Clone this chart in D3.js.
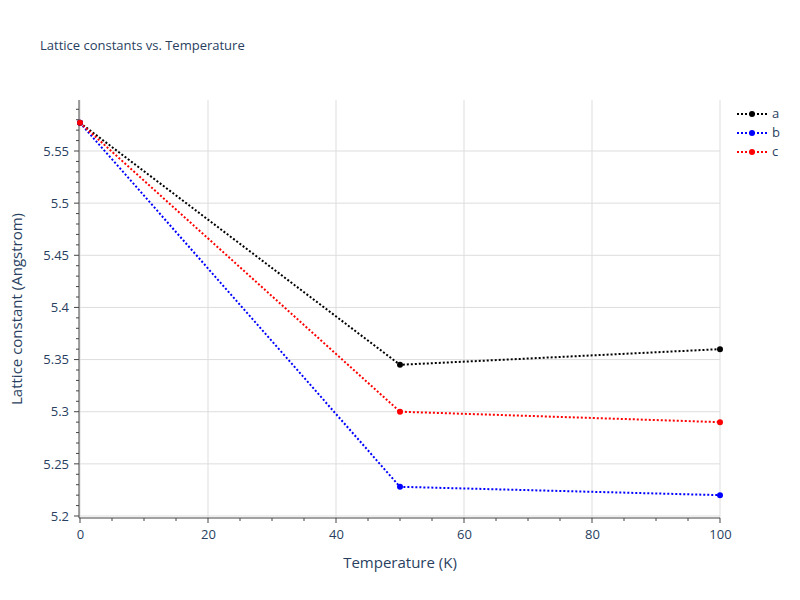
<!DOCTYPE html><html><head><meta charset="utf-8"><script src="https://cdn.jsdelivr.net/npm/d3@7"></script>
<style>body{margin:0;background:#fff}text{font-family:"Open Sans",Arial,sans-serif;fill:#2a3f5f}</style></head><body>
<script>
const temps=[0,50,100];
const seriesNames=["a","b","c"];
const seriesColors=["black","blue","red"];
const aVals=[5.577,5.345,5.360];
const bVals=[5.577,5.228,5.220];
const cVals=[5.577,5.300,5.290];
const xTicks=[0,20,40,60,80,100];
const yTicks=[5.2,5.25,5.3,5.35,5.4,5.45,5.5,5.55];
const series=[aVals,bVals,cVals];

const W=800,H=600,L=80,R=720,T=100,B=518;
const svg=d3.select("body").append("svg").attr("width",W).attr("height",H);
const x=d3.scaleLinear().domain([0,100]).range([L,R]);
const y=d3.scaleLinear().domain([5.2,5.55]).range([516,151]);
const g=svg.append("g");
xTicks.forEach(t=>g.append("line").attr("x1",x(t)).attr("x2",x(t)).attr("y1",T).attr("y2",B).attr("stroke","#ddd"));
yTicks.forEach(t=>g.append("line").attr("x1",L).attr("x2",R).attr("y1",y(t)).attr("y2",y(t)).attr("stroke","#ddd"));
g.append("line").attr("x1",L-1).attr("x2",L-1).attr("y1",T).attr("y2",B).attr("stroke","#444");
g.append("line").attr("x1",L-1).attr("x2",R).attr("y1",B).attr("y2",B).attr("stroke","#444");
const xa=svg.append("g").attr("transform",`translate(0,${B})`).call(d3.axisBottom(x).tickValues(xTicks).tickSize(0).tickPadding(12).tickFormat(d3.format("d")));
xa.select(".domain").remove();
d3.range(0,101,5).forEach(t=>svg.append("line").attr("x1",x(t)).attr("x2",x(t)).attr("y1",B).attr("y2",B+(t%20===0?5:3)).attr("stroke","#444"));
const ya=svg.append("g").attr("transform",`translate(${L-1},0)`).call(d3.axisLeft(y).tickValues(yTicks).tickSize(0).tickPadding(10).tickFormat(d=>String(+d.toFixed(2))));
ya.select(".domain").remove();
d3.range(5.2,5.6,0.01).forEach(t=>{if(y(t)>=T)svg.append("line").attr("x1",L-1).attr("x2",L-1-(Math.abs(t*20-Math.round(t*20))<1e-6?5:3)).attr("y1",y(t)).attr("y2",y(t)).attr("stroke","#444");});
svg.selectAll(".tick text").attr("font-size",13).style("fill","#2a3f5f");
svg.append("text").attr("x",40).attr("y",50).attr("font-size",13).text("Lattice constants vs. Temperature");
svg.append("text").attr("x",400).attr("y",568).attr("text-anchor","middle").attr("font-size",15).text("Temperature (K)");
svg.append("text").attr("transform","translate(22,309) rotate(-90)").attr("text-anchor","middle").attr("font-size",15).text("Lattice constant (Angstrom)");
const line=d3.line().x((d,i)=>x(temps[i])).y(d=>y(d));
series.forEach((s,k)=>{
  svg.append("path").attr("d",line(s)).attr("fill","none").attr("stroke",seriesColors[k]).attr("stroke-width",2).attr("stroke-dasharray","2,2");
  s.forEach((v,i)=>svg.append("circle").attr("cx",x(temps[i])).attr("cy",y(v)).attr("r",3).attr("fill",seriesColors[k]));
  const ly=114+k*19;
  svg.append("line").attr("x1",737).attr("x2",767).attr("y1",ly).attr("y2",ly).attr("stroke",seriesColors[k]).attr("stroke-width",2).attr("stroke-dasharray","2,2");
  svg.append("circle").attr("cx",752).attr("cy",ly).attr("r",3).attr("fill",seriesColors[k]);
  svg.append("text").attr("x",772).attr("y",ly+4).attr("font-size",13).text(seriesNames[k]);
});
</script></body></html>
